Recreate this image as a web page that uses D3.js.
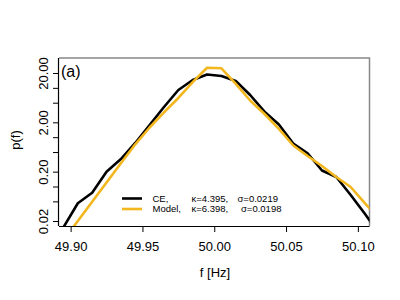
<!DOCTYPE html>
<html><head><meta charset="utf-8">
<script src="https://cdn.jsdelivr.net/npm/d3@7"></script>
<style>body{margin:0;background:#fff}svg{font-family:"Liberation Sans",Arial,sans-serif}</style>
</head><body><svg width="400" height="300"></svg>
<script>
const freqs = [49.895,49.905,49.915,49.925,49.935,49.945,49.955,49.965,49.975,49.985,49.995,50.005,50.015,50.025,50.035,50.045,50.055,50.065,50.075,50.085,50.095,50.105,50.115];
const ceValues = [0.0149,0.0457,0.0749,0.200,0.361,0.763,1.767,4.09,9.05,14.4,18.7,17.4,13.8,7.17,3.29,1.81,0.745,0.472,0.211,0.156,0.0673,0.0277,0.0109];
const modelValues = [0.0082,0.020,0.0492,0.121,0.296,0.717,1.57,3.17,6.23,13.1,25.6,24.9,12.0,5.54,2.95,1.47,0.679,0.416,0.261,0.156,0.0978,0.0453,0.022];
const xTicks = [49.90,49.95,50.00,50.05,50.10];
const yTicks = [0.02,0.05,0.1,0.2,0.5,1,2,5,10,20];
const yLabelTicks = [0.02,0.2,2,20];
const legendNames = ["CE,","Model,"];
const legendKappa = ["κ=4.395,","κ=6.398,"];
const legendSigma = ["σ=0.0219","σ=0.0198"];
const colors = ["#000000","#f2b61e"];

const L=59,R=369.5,T=58,B=226;
const svg=d3.select("svg");
const x=d3.scaleLinear().domain([49.8919,50.1081]).range([L,R]);
const y=d3.scaleLog().domain([0.01583,40.3]).range([B,T]);

svg.append("defs").append("clipPath").attr("id","clip")
  .append("rect").attr("x",L).attr("y",T).attr("width",R-L).attr("height",B-T);

svg.append("path").attr("d",`M${L},${T}H${R}V${B}`).attr("fill","none").attr("stroke","#888").attr("stroke-width",1.5);

const line=d3.line().x((d,i)=>x(freqs[i])).y(d=>y(d));
const g=svg.append("g").attr("clip-path","url(#clip)");
[ceValues,modelValues].forEach((vals,k)=>{
  g.append("path").datum(vals).attr("d",line).attr("fill","none")
   .attr("stroke",colors[k]).attr("stroke-width",2.6).attr("stroke-linejoin","round");
});

const xa=svg.append("g").attr("transform",`translate(0,${B})`)
  .call(d3.axisBottom(x).tickValues(xTicks).tickFormat(d3.format(".2f")).tickSize(6).tickSizeOuter(0).tickPadding(10));
xa.select(".domain").attr("d",`M${L},0.5H${R}`).attr("stroke","#000").attr("stroke-width",1.2);
xa.selectAll("text").attr("font-size",13).attr("fill","#000").attr("font-family","Liberation Sans, Arial, sans-serif");

const ya=svg.append("g").attr("transform",`translate(${L},0)`)
  .call(d3.axisLeft(y).tickValues(yTicks).tickFormat(d=>yLabelTicks.includes(d)?d3.format(".2f")(d):"").tickSize(6).tickSizeOuter(0));
ya.select(".domain").attr("d",`M-0.5,${T}V${B}`).attr("stroke","#000").attr("stroke-width",1.2);
ya.selectAll("text").attr("font-size",13).attr("fill","#000").attr("font-family","Liberation Sans, Arial, sans-serif")
  .attr("text-anchor","middle").attr("dy",0).attr("x",0)
  .attr("transform","translate(-11.5,0) rotate(-90)");

svg.append("text").attr("x",61).attr("y",77).attr("font-size",16).text("(a)");
svg.append("text").attr("x",215).attr("y",277).attr("text-anchor","middle").attr("font-size",13).text("f [Hz]");
svg.append("text").attr("transform","translate(20,140) rotate(-90)").attr("text-anchor","middle").attr("font-size",13).text("p(f)");

const ly=[198.5,209];
legendNames.forEach((n,i)=>{
  svg.append("line").attr("x1",122).attr("x2",142).attr("y1",ly[i]).attr("y2",ly[i]).attr("stroke",colors[i]).attr("stroke-width",2.6);
  svg.append("text").attr("x",152.5).attr("y",ly[i]+3.4).attr("font-size",9.5).text(n);
  svg.append("text").attr("x",191.5).attr("y",ly[i]+3.4).attr("font-size",9.5).text(legendKappa[i]);
  svg.append("text").attr("x",i===0?237.5:241).attr("y",ly[i]+3.4).attr("font-size",9.5).text(legendSigma[i]);
});
</script></body></html>
